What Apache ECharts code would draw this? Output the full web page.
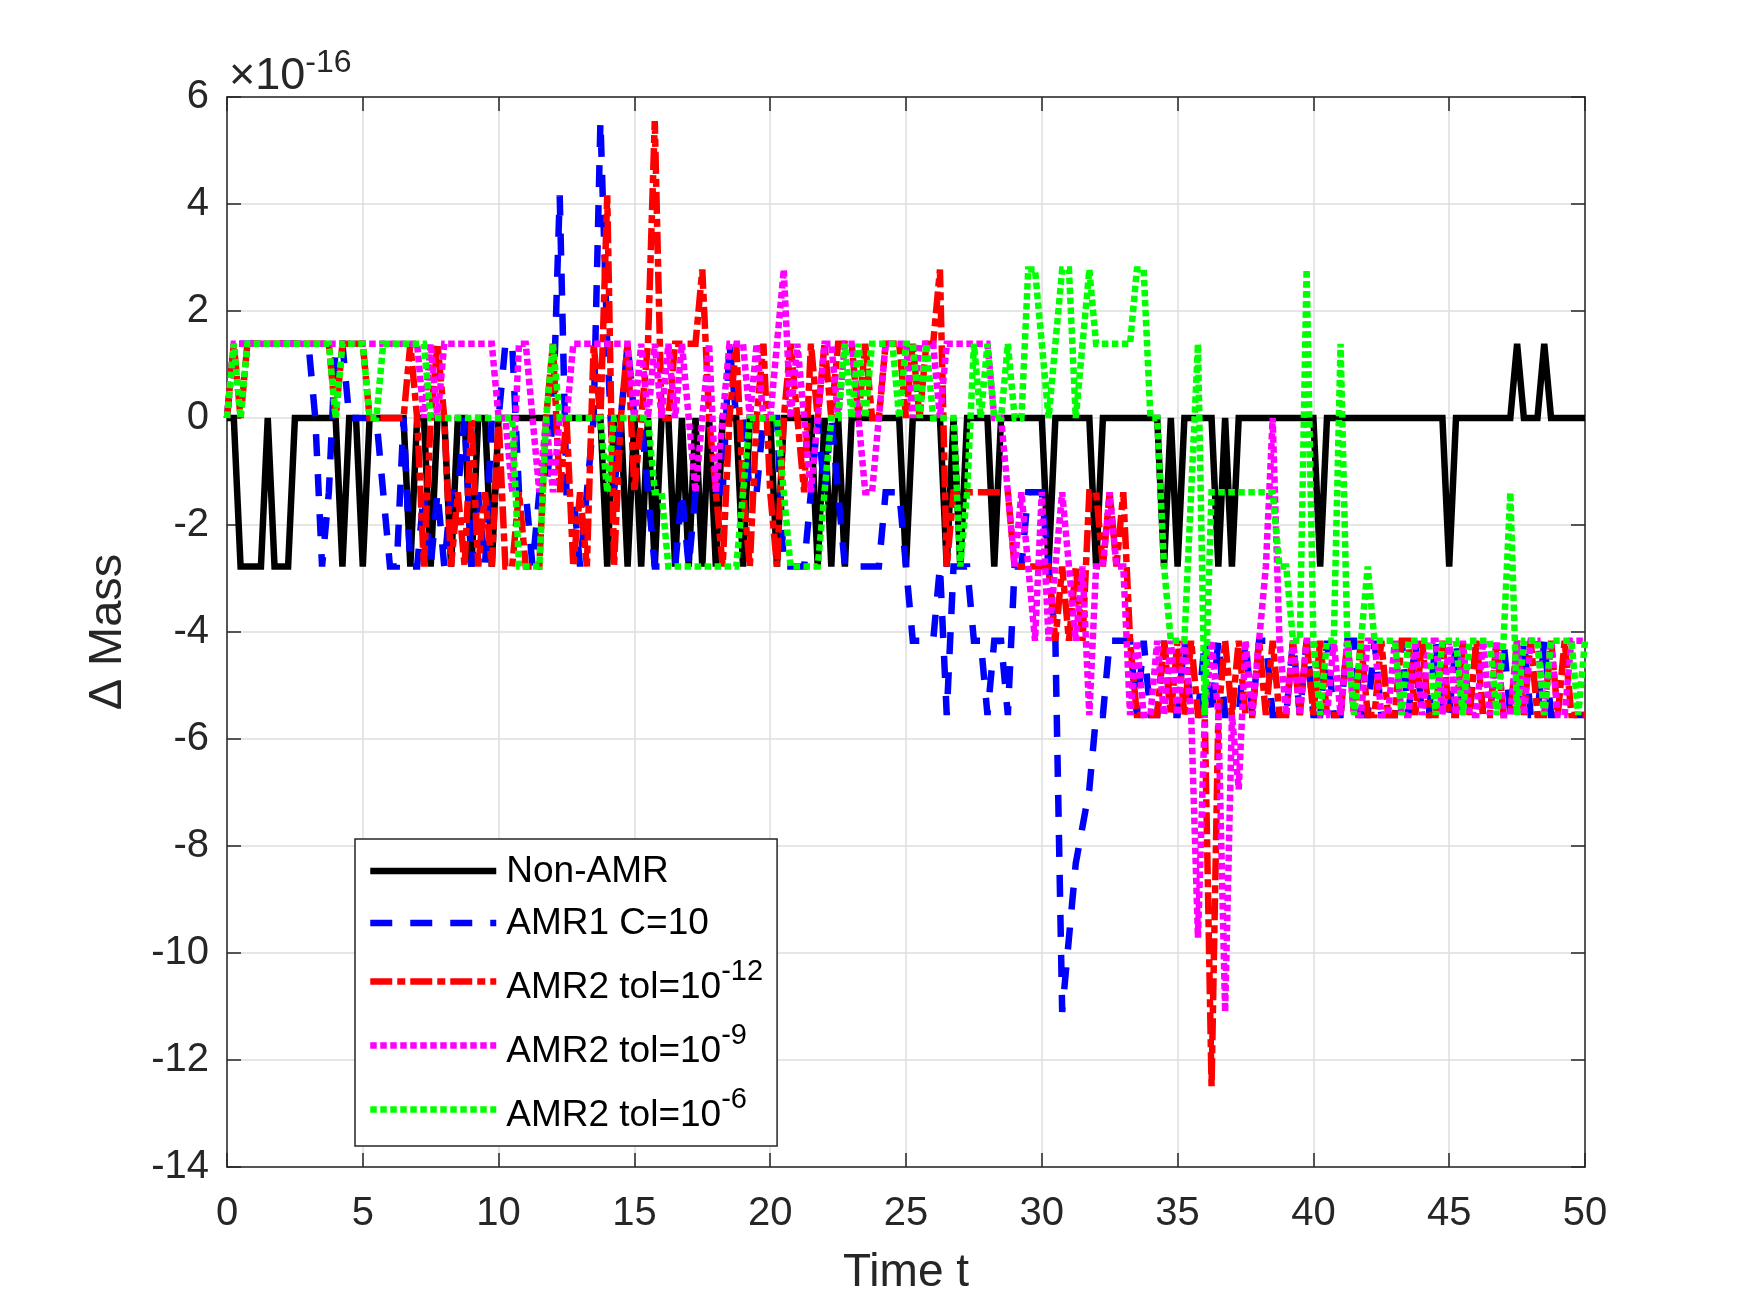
<!DOCTYPE html>
<html><head><meta charset="utf-8">
<script src="https://cdn.jsdelivr.net/npm/echarts@6/dist/echarts.min.js"></script>
<style>html,body{margin:0;padding:0;background:#fff}#chart{width:1750px;height:1289px}</style>
</head><body><div id="chart"></div>
<script>
// sampling grid of the time axis
const T_START = 0, T_STEP = 0.25;
// values are stored as multiples of one rounding step (1.3878e-16); plotted in units of 1e-16
const UNIT = 1.3878;

const seriesNames = ['Non-AMR', 'AMR1 C=10', 'AMR2 tol=10^-12', 'AMR2 tol=10^-9', 'AMR2 tol=10^-6'];

const nonAMR = [
 0,0,-2,-2,-2,-2,0,-2,-2,-2,0,0,0,0,0,0,0,-2,0,0,
 -2,0,0,0,0,0,0,-2,0,0,-2,0,0,-2,0,0,-2,0,0,-2,
 0,0,0,0,0,0,0,0,0,0,0,0,0,0,0,0,-2,0,0,-2,
 0,-2,0,-2,0,0,-2,0,-2,0,-2,0,-2,0,0,0,-2,0,0,0,
 0,-2,0,0,0,0,0,-2,0,-2,0,-2,0,0,0,0,0,0,0,0,
 -2,0,0,0,0,0,-2,0,-2,0,0,0,0,-2,0,0,0,0,0,0,
 0,-2,0,0,0,0,0,0,-2,0,0,0,0,0,0,0,0,0,-2,0,
 -2,0,0,0,0,0,-2,0,-2,0,0,0,0,0,0,0,0,0,0,0,
 0,-2,0,0,0,0,0,0,0,0,0,0,0,0,0,0,0,0,0,0,
 -2,0,0,0,0,0,0,0,0,0,1,0,0,0,1,0,0,0,0,0,
 0];

const amr1 = [
 0,1,1,1,1,1,1,1,1,1,1,1,1,0,-2,-1,1,1,0,0,
 0,0,0,-1,-2,-2,0,-2,-2,-1,-2,-1,-2,-1,-1,0,-2,-1,-2,0,
 0,1,1,-1,-1,-2,-1,-1,0,3,-1,-1,-2,-1,0,4,1,-1,0,1,
 0,0,-1,-2,-2,-2,-2,-1,-2,-1,-1,-1,-1,-1,1,0,0,-1,-1,0,
 0,0,-2,-2,-2,-2,-1,0,-1,0,-1,-2,-2,-2,-2,-2,-2,-1,-1,-1,
 -2,-3,-3,-3,-3,-2,-4,-2,-2,-2,-3,-3,-4,-3,-3,-4,-2,-2,-1,-1,
 -1,-2,-3,-8,-7,-6,-5.5,-5,-4,-4,-3,-3,-3,-3,-4,-3,-4,-4,-3,-4,
 -4,-3,-4,-4,-3,-4,-3,-4,-4,-4,-3,-4,-3,-3,-4,-4,-4,-3,-4,-3,
 -4,-4,-3,-4,-4,-3,-3,-4,-4,-3,-4,-4,-4,-3,-4,-3,-4,-4,-3,-4,
 -4,-3,-4,-4,-3,-4,-4,-3,-3,-4,-4,-3,-4,-4,-3,-4,-4,-4,-4,-4,
 -4];

const amr2tol12 = [
 0,1,0,1,1,1,1,1,1,1,1,1,1,1,1,1,0,1,1,1,
 1,0,0,0,0,0,0,1,0,-2,0,1,0,-2,-1,-2,0,-2,-1,-2,
 0,-2,-2,-1,-2,-2,-2,0,1,-1,0,-2,-1,-2,1,0,3,-2,0,1,
 -1,0,1,4,0,0,1,1,1,1,2,0,-1,-2,0,1,-1,-2,0,1,
 -1,-2,0,1,0,-1,1,0,1,0,1,1,1,0,1,0,0,1,1,1,
 0,1,0,1,1,2,-2,-1,-1,-1,-1,-1,-1,-1,-1,-1,-2,-2,-2,-2,
 -2,-2,-3,-2,-3,-2,-3,-1,-1,-2,-1,-2,-1,-3,-4,-4,-4,-4,-3,-4,
 -3,-4,-3,-4,-4,-9,-4,-3,-4,-3,-4,-4,-3,-4,-3,-4,-4,-3,-4,-3,
 -4,-3,-4,-4,-4,-3,-4,-3,-4,-4,-3,-4,-4,-3,-3,-4,-3,-4,-4,-3,
 -4,-4,-3,-4,-3,-4,-4,-3,-4,-4,-3,-4,-3,-4,-4,-3,-4,-3,-4,-4,
 -4];

const amr2tol9 = [
 0,1,1,1,1,1,1,1,1,1,1,1,1,1,1,1,1,1,1,1,
 1,1,1,1,1,1,1,1,1,0,1,0,1,1,1,1,1,1,1,1,
 0,0,-1,1,1,0,-1,0,-1,0,0,1,1,1,1,1,1,1,1,1,
 0,1,0,1,0,1,0,1,0,-1,0,1,-1,0,1,1,1,0,1,0,
 0,1,2,0,1,0,-1,0,1,1,0,1,1,0,-1,-1,0,1,1,1,
 1,0,1,1,1,0,1,1,1,1,1,1,1,0,0,-1,-2,-1,-2,-3,
 -1,-3,-2,-1,-2,-3,-2,-4,-2,-2,-1,-2,-2,-4,-3,-4,-4,-3,-4,-3,
 -4,-3,-4,-7,-4,-3,-4,-8,-4,-5,-3,-4,-3,-2,0,-3,-4,-3,-4,-3,
 -3,-4,-4,-3,-4,-3,-4,-4,-3,-3,-4,-4,-3,-4,-4,-3,-4,-3,-3,-4,
 -3,-4,-3,-4,-4,-3,-4,-3,-4,-4,-3,-4,-3,-3,-4,-3,-4,-4,-3,-3,
 -3];

const amr2tol6 = [
 0,1,0,1,1,1,1,1,1,1,1,1,1,1,1,1,0,1,1,1,
 1,0,0,1,1,1,1,1,1,1,0,0,0,0,0,0,0,0,0,0,
 0,0,0,-2,-2,-2,-2,0,1,0,0,0,0,0,0,0,-1,0,0,0,
 0,0,0,-1,-1,-2,-2,-2,-2,-2,-2,-2,-2,-2,-2,-2,-1,0,0,0,
 0,0,-1,-2,-2,-2,-2,-2,-1,0,0,1,0,1,0,1,1,1,1,0,
 1,1,0,1,0,0,0,0,-2,-1,1,0,1,0,0,1,0,0,2,2,
 1,0,1,2,2,0,1,2,1,1,1,1,1,1,2,2,0,0,-2,-3,
 -3,-3,-1,1,-4,-1,-1,-1,-1,-1,-1,-1,-1,-1,-1,-2,-2,-3,-3,2,
 -3,-4,-3,-3,1,-3,-4,-3,-2,-3,-3,-3,-3,-4,-3,-3,-3,-3,-4,-3,
 -3,-3,-4,-3,-3,-3,-3,-4,-3,-1,-4,-3,-3,-3,-4,-3,-3,-3,-3,-4,
 -3];

const xTickValues = [0,5,10,15,20,25,30,35,40,45,50];
const yTickValues = [-14,-12,-10,-8,-6,-4,-2,0,2,4,6];

const FONT = "'Liberation Sans', Arial, Helvetica, sans-serif";
const AX = '#262626';
const LW = 6.5;

function toPoints(arr) {
  return arr.map((v, i) => [T_START + i * T_STEP, v * UNIT]);
}

const styles = [
  { color: '#000000', type: 'solid' },
  { color: '#0000ff', type: [22, 18] },
  { color: '#ff0000', type: [22, 5, 8, 5] },
  { color: '#ff00ff', type: [6.5, 3.5] },
  { color: '#00ff00', type: [6.5, 3.5] }
];
const dataSets = [nonAMR, amr1, amr2tol12, amr2tol9, amr2tol6];

const series = dataSets.map((arr, k) => ({
  name: seriesNames[k],
  type: 'line',
  xAxisIndex: 0, yAxisIndex: 0,
  data: toPoints(arr),
  showSymbol: false,
  symbol: 'none',
  animation: false,
  color: styles[k].color,
  lineStyle: { color: styles[k].color, width: LW, type: styles[k].type, join: 'miter', miterLimit: 4, cap: 'butt' },
  z: 2 + k
}));

const chart = echarts.init(document.getElementById('chart'), null, { renderer: 'canvas' });

const axisCommon = {
  axisLine: { show: true, onZero: false, lineStyle: { color: AX, width: 1.5 } },
  axisTick: { show: true, inside: true, length: 14, lineStyle: { color: AX, width: 1.5 } }
};

chart.setOption({
  backgroundColor: '#ffffff',
  animation: false,
  grid: { left: 227, top: 97, width: 1358, height: 1070, containLabel: false },
  xAxis: [
    Object.assign({}, axisCommon, {
      type: 'value', position: 'bottom', min: 0, max: 50, interval: 5,
      axisLabel: { show: true, margin: 27, fontSize: 40, color: AX, fontFamily: FONT,
        formatter: v => xTickValues.includes(v) ? String(v) : '' },
      splitLine: { show: true, lineStyle: { color: '#dedede', width: 1.5 } }
    }),
    Object.assign({}, axisCommon, {
      type: 'value', position: 'top', min: 0, max: 50, interval: 5,
      axisLabel: { show: false }, splitLine: { show: false }
    })
  ],
  yAxis: [
    Object.assign({}, axisCommon, {
      type: 'value', position: 'left', min: -14, max: 6, interval: 2,
      axisLabel: { show: true, margin: 18, fontSize: 40, color: AX, fontFamily: FONT,
        formatter: v => yTickValues.includes(v) ? String(v) : '' },
      splitLine: { show: true, lineStyle: { color: '#dedede', width: 1.5 } }
    }),
    Object.assign({}, axisCommon, {
      type: 'value', position: 'right', min: -14, max: 6, interval: 2,
      axisLabel: { show: false }, splitLine: { show: false }
    })
  ],
  legend: {
    orient: 'vertical',
    left: 355, top: 839,
    padding: [14, 14, 12, 12],
    itemWidth: 126, itemHeight: 20, itemGap: 15,
    backgroundColor: '#ffffff',
    borderColor: AX, borderWidth: 1.5, borderRadius: 0,
    itemStyle: { opacity: 0 },
    lineStyle: { width: LW },
    data: seriesNames,
    textStyle: {
      fontFamily: FONT, fontSize: 37, color: '#000', padding: [0, 0, 0, 5],
      rich: {
        n: { fontFamily: FONT, fontSize: 37, color: '#000', lineHeight: 38, verticalAlign: 'bottom' },
        s: { fontFamily: FONT, fontSize: 29, color: '#000', padding: [0, 0, 20, 0], verticalAlign: 'top' }
      }
    },
    formatter: function (name) {
      const p = name.split('^');
      if (p.length === 1) return '{n|' + name + '}';
      return '{n|' + p[0] + '}{s|' + p[1] + '}';
    }
  },
  graphic: [
    { type: 'text', left: 229, top: 47, z: 100,
      style: { text: '{a|×10}{b|-16}', fill: AX,
        rich: { a: { fontSize: 45, fontFamily: FONT, fill: AX }, b: { fontSize: 32, fontFamily: FONT, fill: AX, padding: [0, 0, 28, 0] } } } },
    { type: 'text', x: 906, y: 1250, z: 100,
      style: { text: 'Time t', fontSize: 46, fontFamily: FONT, fill: AX, align: 'center', verticalAlign: 'top' } },
    { type: 'text', x: 108, y: 632, rotation: Math.PI / 2, z: 100,
      style: { text: 'Δ Mass', fontSize: 47, fontFamily: FONT, fill: AX, align: 'center', verticalAlign: 'middle' } }
  ],
  series: series
});
</script></body></html>
